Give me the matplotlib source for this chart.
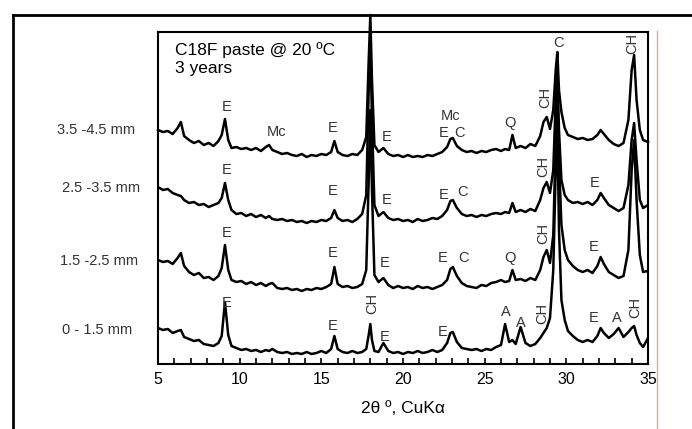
import matplotlib
matplotlib.use("Agg")
import matplotlib.pyplot as plt
from matplotlib.lines import Line2D
import numpy as np

plt.rcParams["font.family"] = ["Liberation Sans", "DejaVu Sans"]

# 2-theta grid (deg) and intensities (arbitrary units)
two_theta = [
    5.0, 5.3, 5.6, 5.9, 6.2, 6.4, 6.6, 6.9, 7.2, 7.5,
    7.8, 8.1, 8.4, 8.7, 8.9, 9.1, 9.3, 9.5, 9.8, 10.1,
    10.4, 10.7, 11.0, 11.3, 11.6, 11.8, 12.0, 12.3, 12.6, 12.9,
    13.2, 13.5, 13.8, 14.1, 14.4, 14.7, 15.0, 15.3, 15.6, 15.8,
    16.0, 16.3, 16.6, 16.9, 17.2, 17.5, 17.75, 17.9, 18.0, 18.1,
    18.25, 18.5, 18.8, 19.1, 19.4, 19.7, 20.0, 20.3, 20.6, 20.9,
    21.2, 21.5, 21.8, 22.1, 22.4, 22.7, 22.9, 23.05, 23.3, 23.6,
    23.9, 24.2, 24.5, 24.8, 25.1, 25.4, 25.7, 26.0, 26.25, 26.5,
    26.7, 26.9, 27.2, 27.5, 27.8, 28.1, 28.4, 28.6, 28.8, 29.0,
    29.2, 29.35, 29.45, 29.55, 29.7, 29.9, 30.1, 30.4, 30.7, 31.0,
    31.3, 31.6, 31.9, 32.1, 32.3, 32.6, 32.9, 33.2, 33.5, 33.8,
    34.0, 34.15, 34.3, 34.5, 34.7, 35.0,
]

depth_0_15 = [
    36, 34, 35, 31, 33, 34, 27, 25, 23, 24,
    20, 19, 18, 21, 28, 62, 29, 18, 16, 14,
    15, 13, 14, 12, 14, 13, 15, 12, 11, 12,
    10, 11, 10, 12, 10, 11, 13, 11, 15, 28,
    15, 12, 11, 13, 11, 12, 15, 29, 40, 24,
    13, 12, 21, 13, 11, 12, 10, 12, 11, 13,
    11, 12, 14, 12, 14, 21, 31, 32, 22, 16,
    15, 14, 15, 13, 15, 14, 17, 19, 40, 22,
    24, 20, 37, 21, 18, 20, 26, 31, 36, 46,
    94, 194, 239, 134, 64, 44, 33, 28, 24, 22,
    24, 22, 28, 36, 31, 26, 30, 36, 27, 32,
    36, 38, 29, 21, 17, 26,
]

depth_15_25 = [
    39, 37, 38, 35, 41, 46, 33, 27, 24, 26,
    21, 22, 19, 23, 31, 54, 29, 19, 17, 18,
    15, 17, 14, 16, 13, 15, 16, 11, 10, 11,
    9, 10, 8, 10, 9, 11, 10, 12, 15, 32,
    15, 12, 13, 11, 12, 15, 29, 119, 189, 109,
    24, 17, 21, 14, 11, 13, 11, 12, 10, 13,
    11, 12, 10, 12, 14, 19, 30, 32, 23, 16,
    13, 12, 11, 14, 13, 16, 17, 19, 17, 18,
    29, 19, 20, 18, 21, 19, 29, 42, 49, 36,
    64, 159, 209, 139, 74, 49, 39, 33, 29, 27,
    29, 26, 33, 42, 35, 27, 24, 21, 23, 49,
    129, 159, 99, 44, 27, 28,
]

depth_25_35 = [
    42, 39, 40, 36, 34, 33, 29, 26, 27, 24,
    25, 22, 24, 26, 31, 46, 29, 19, 15, 16,
    13, 15, 12, 14, 11, 13, 10, 9, 10, 8,
    9, 7, 8, 6, 8, 7, 9, 8, 11, 19,
    11, 8, 9, 7, 10, 15, 34, 139, 189, 109,
    24, 13, 17, 11, 9, 10, 8, 9, 7, 10,
    8, 9, 11, 10, 13, 19, 28, 29, 21, 15,
    13, 14, 12, 14, 13, 15, 16, 15, 17, 16,
    26, 17, 19, 17, 20, 18, 29, 41, 47, 36,
    59, 129, 159, 99, 49, 34, 29, 26, 27, 25,
    27, 24, 29, 36, 31, 24, 21, 18, 21, 44,
    89, 106, 69, 29, 21, 24,
]

depth_35_45 = [
    39, 37, 38, 35, 41, 47, 33, 29, 26, 28,
    24, 26, 23, 28, 34, 50, 29, 21, 22, 20,
    21, 19, 21, 18, 22, 24, 19, 17, 15, 16,
    14, 13, 15, 12, 14, 13, 15, 14, 17, 28,
    17, 14, 13, 15, 14, 19, 32, 109, 154, 89,
    24, 17, 21, 15, 13, 14, 12, 14, 12, 13,
    12, 14, 13, 15, 17, 22, 30, 31, 23, 19,
    17, 18, 16, 18, 17, 19, 20, 18, 20, 19,
    34, 21, 23, 21, 25, 23, 33, 47, 52, 40,
    59, 99, 117, 79, 57, 41, 34, 32, 30, 31,
    29, 30, 34, 39, 35, 29, 25, 23, 26, 49,
    99, 114, 69, 39, 29, 27,
]

row_labels = ["0 - 1.5 mm", "1.5 -2.5 mm", "2.5 -3.5 mm", "3.5 -4.5 mm"]
patterns = [depth_0_15, depth_15_25, depth_25_35, depth_35_45]
offsets = [0, 65, 135, 195]

# peak labels: (text, 2theta, height, rotated)
peak_labels = [
    ("E", 9.23, 257, False), ("Mc", 12.23, 232, False), ("E", 15.72, 236, False),
    ("E", 19.02, 227, False), ("Mc", 22.94, 248, False), ("E", 22.51, 231, False),
    ("C", 23.43, 231, False), ("Q", 26.55, 241, False), ("CH", 28.70, 267, True),
    ("C", 29.49, 321, False), ("CH", 34.03, 321, True),
    ("E", 9.23, 194, False), ("E", 15.72, 173, False), ("E", 19.02, 164, False),
    ("E", 22.51, 169, False), ("C", 23.62, 172, False), ("CH", 28.58, 198, True),
    ("E", 31.76, 181, False),
    ("E", 9.23, 131, False), ("E", 15.72, 111, False), ("E", 18.90, 101, False),
    ("E", 22.45, 106, False), ("C", 23.68, 106, False), ("Q", 26.55, 106, False),
    ("CH", 28.58, 131, True), ("E", 31.70, 117, False),
    ("E", 9.23, 61, False), ("E", 15.72, 38, False), ("CH", 18.10, 61, True),
    ("E", 18.90, 27, False), ("E", 22.45, 32, False), ("A", 26.31, 52, False),
    ("A", 27.23, 41, False), ("CH", 28.52, 51, True), ("E", 31.70, 46, False),
    ("A", 33.11, 46, False), ("CH", 34.21, 57, True),
]

fig = plt.figure(figsize=(6.92, 4.29), dpi=100)
ax = fig.add_axes([158 / 692, 65 / 429, 490 / 692, 332 / 429])

x = np.array(two_theta)
for i, (vals, off) in enumerate(zip(patterns, offsets)):
    ax.plot(x, np.array(vals) + off, color="black", lw=1.8,
            clip_on=(i != 3), zorder=3)

for txt, px, py, rot in peak_labels:
    ax.text(px, py, txt, ha="center", va="center", fontsize=10.5,
            color="#333333", rotation=90 if rot else 0)

ax.text(0.035, 0.945, "C18F paste @ 20 ºC", transform=ax.transAxes,
        fontsize=12.5, va="center", ha="left")
ax.text(0.035, 0.89, "3 years", transform=ax.transAxes,
        fontsize=12.5, va="center", ha="left")

ax.set_xlim(5, 35)
ax.set_ylim(0, 332)
ax.set_yticks([])
ax.set_xticks([5, 10, 15, 20, 25, 30, 35])
ax.set_xticks(np.arange(5, 36, 1), minor=True)
ax.tick_params(axis="x", which="both", direction="in", length=4, width=1.2,
               labelsize=11.5, pad=6)
for s in ax.spines.values():
    s.set_linewidth(1.5)
ax.set_xlabel("2θ º, CuKα", fontsize=12.5, labelpad=10)

# row labels on the left
label_pos = [(62, 330), (60, 261), (62, 188), (57, 130)]
for lab, (lx, ly) in zip(row_labels, label_pos):
    fig.text(lx / 692, 1 - ly / 429, lab, fontsize=10.5, color="#333333",
             ha="left", va="center")

# outer frame and pale red guide line
fig.add_artist(Line2D([13 / 692, 1], [1 - 15 / 429, 1 - 15 / 429],
                      transform=fig.transFigure, color="black", lw=2))
fig.add_artist(Line2D([13 / 692, 13 / 692], [0, 1 - 15 / 429],
                      transform=fig.transFigure, color="black", lw=2))
fig.add_artist(Line2D([657 / 692, 657 / 692], [0, 1 - 31 / 429],
                      transform=fig.transFigure, color="#f0a0a0", lw=1))

fig.savefig("out.png", dpi=100)
